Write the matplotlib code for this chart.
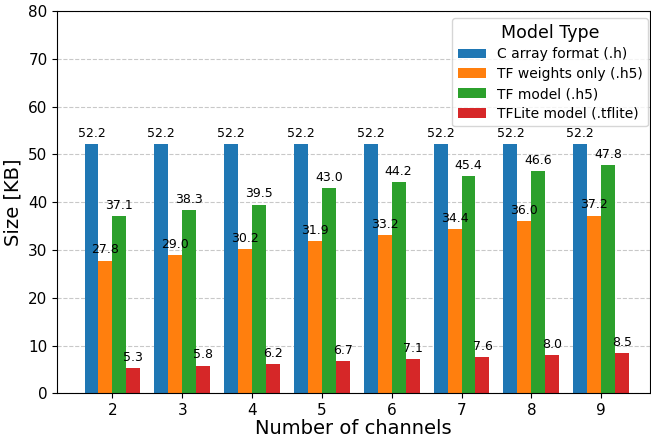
import numpy as np
import matplotlib
matplotlib.use("Agg")
import matplotlib.pyplot as plt

channels = [2, 3, 4, 5, 6, 7, 8, 9]
c_array = [52.2, 52.2, 52.2, 52.2, 52.2, 52.2, 52.2, 52.2]
tf_weights = [27.8, 29.0, 30.2, 31.9, 33.2, 34.4, 36.0, 37.2]
tf_model = [37.1, 38.3, 39.5, 43.0, 44.2, 45.4, 46.6, 47.8]
tflite = [5.3, 5.8, 6.2, 6.7, 7.1, 7.6, 8.0, 8.5]

series = [
    ("C array format (.h)", c_array, "#1f77b4"),
    ("TF weights only (.h5)", tf_weights, "#ff7f0e"),
    ("TF model (.h5)", tf_model, "#2ca02c"),
    ("TFLite model (.tflite)", tflite, "#d62728"),
]

fig = plt.figure(figsize=(6.51, 4.42), dpi=100)
ax = fig.add_axes([0.088, 0.110, 0.9105, 0.865])

x = np.array(channels, dtype=float)
width = 0.2
all_bars = []
for i, (label, vals, color) in enumerate(series):
    offset = (i - 1.5) * width
    bars = ax.bar(x + offset, vals, width, label=label, color=color, zorder=2)
    all_bars.append((bars, vals))

# labels on top of the bars so they are not hidden by neighbour bars
for bars, vals in all_bars:
    for b, v in zip(bars, vals):
        ax.annotate(f"{v:.1f}", (b.get_x() + b.get_width() / 2, v),
                    xytext=(0, 3), textcoords="offset points",
                    ha="center", va="bottom", fontsize=9, zorder=4)

ax.set_xticks(x)
ax.set_xticklabels([str(c) for c in channels])
ax.tick_params(axis="both", labelsize=11)
ax.set_xlim(1.21, 9.70)
ax.set_ylim(0, 80)
ax.set_xlabel("Number of channels", fontsize=14, labelpad=1)
ax.set_ylabel("Size [KB]", fontsize=14)
ax.yaxis.grid(True, linestyle="--", color="#bbbbbb", alpha=0.8, zorder=0)
ax.set_axisbelow(True)
leg = ax.legend(title="Model Type", fontsize=10, title_fontsize=12.5, loc="upper right",
                bbox_to_anchor=(1.0084, 1.0), labelspacing=0.42)
leg.set_zorder(6)

fig.savefig("out.png", dpi=100)
